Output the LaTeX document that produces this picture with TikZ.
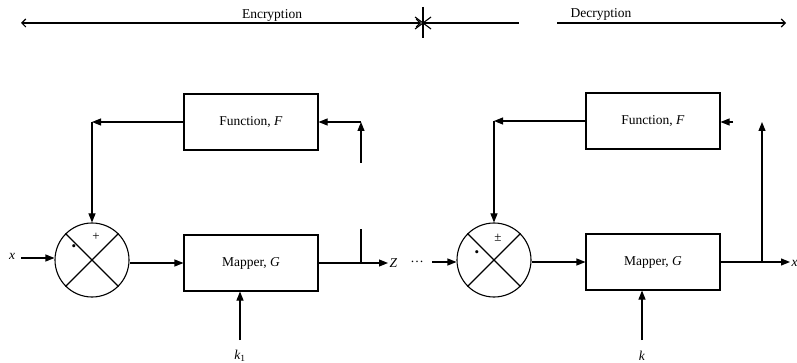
\documentclass[tikz,border=0pt]{standalone}
\usepackage{fontspec}
\setmainfont{Liberation Serif}
\usetikzlibrary{arrows.meta}
\begin{document}
\begin{tikzpicture}[x=1pt,y=-1pt,line width=1.1pt,
  box/.style={draw,rectangle,minimum width=134pt,minimum height=56pt,inner sep=0pt,font=\fontsize{13.5}{15}\selectfont},
  mixer/.style={draw,circle,minimum size=74pt,inner sep=0pt},
  lbl/.style={inner sep=0pt,font=\fontsize{13.5}{15}\selectfont},
  sgn/.style={inner sep=0pt,font=\fontsize{13}{14}\selectfont},
  arr/.style={-{Triangle[length=9pt,width=7pt]}},
  span/.style={{Straight Barb[length=4pt,width=8pt]}-{Straight Barb[length=4pt,width=8pt]}},
  spanr/.style={-{Straight Barb[length=4pt,width=8pt]}}]
\useasboundingbox (0,0) rectangle (797,363);
% ---- top spans
\coordinate (eL) at (21,23);
\coordinate (eR) at (421,23);
\coordinate (st) at (423,23);
\coordinate (s1) at (519,23);
\coordinate (dL) at (557,23);
\coordinate (dR) at (786,23);
\draw[span] (eL) -- (eR);
\draw (st) -- (s1);
\draw[spanr] (dL) -- (dR);
\draw (423,7) -- (423,38);
\draw (415,17) -- (431,29);
\draw (415,29) -- (431,17);
\node[lbl] (enc) at (272,15) {Encryption};
\node[lbl] (dec) at (601,14) {Decryption};
% ---- encryption
\node[box] (FL) at (251,122) {Function, \textit{F}};
\node[box] (ML) at (251,263) {Mapper, \textit{G}};
\node[mixer] (CL) at (92,260) {};
\draw (CL.north west) -- (CL.south east);
\draw (CL.north east) -- (CL.south west);
\node[sgn] (pL) at (96,237) {+};
\node[sgn] (dotL) at (74,248) {•};
\node[lbl] (xin) at (12,256) {\textit{x}};
\coordinate (xs) at (21,258);
\draw[arr] (xs) -- (xs -| CL.west);
\coordinate (fbL) at (CL.north |- FL.west);
\draw[arr] (FL.west) -- (fbL);
\draw[arr] (fbL) -- (CL.north);
\draw[arr] (CL.east |- ML.west) -- (ML.west);
\coordinate (zo) at (388,263);
\draw[arr] (ML.east) -- (zo);
\node[lbl,anchor=west] (Z) at (389,263) {\textit{Z}};
\node[lbl] (dots) at (417,262) {\dots};
\coordinate (jL) at (361,263);
\coordinate (jLt) at (361,229);
\draw (jL) -- (jLt);
\coordinate (gL) at (361,163);
\coordinate (cL) at (361,122);
\draw[arr] (gL) -- (cL);
\draw[arr] (cL) -- (FL.east);
\node[lbl] (k1) at (240,356) {\textit{k}\textsubscript{1}};
\coordinate (k1s) at (240,340);
\draw[arr] (k1s) -- (k1s |- ML.south);
% ---- decryption
\node[box] (FR) at (653,121) {Function, \textit{F}};
\node[box] (MR) at (653,262) {Mapper, \textit{G}};
\node[mixer] (CR) at (494,260) {};
\draw (CR.north west) -- (CR.south east);
\draw (CR.north east) -- (CR.south west);
\node[sgn] (pR) at (498,238) {±};
\node[sgn] (dotR) at (477,254) {•};
\coordinate (ri) at (432,262);
\draw[arr] (ri) -- (ri -| CR.west);
\coordinate (fbR) at (CR.north |- FR.west);
\draw[arr] (FR.west) -- (fbR);
\draw[arr] (fbR) -- (CR.north);
\draw[arr] (CR.east |- MR.west) -- (MR.west);
\coordinate (xo) at (790,262);
\draw[arr] (MR.east) -- (xo);
\node[lbl,anchor=west] (xout) at (791,263) {\textit{x}};
\coordinate (jR) at (762,262);
\coordinate (tR) at (762,122);
\draw[arr] (jR) -- (tR);
\coordinate (stub) at (733,122);
\draw[arr] (stub) -- (FR.east |- stub);
\node[lbl] (kR) at (642,356) {\textit{k}};
\coordinate (kRs) at (642,340);
\draw[arr] (kRs) -- (kRs |- MR.south);
\end{tikzpicture}
\end{document}
